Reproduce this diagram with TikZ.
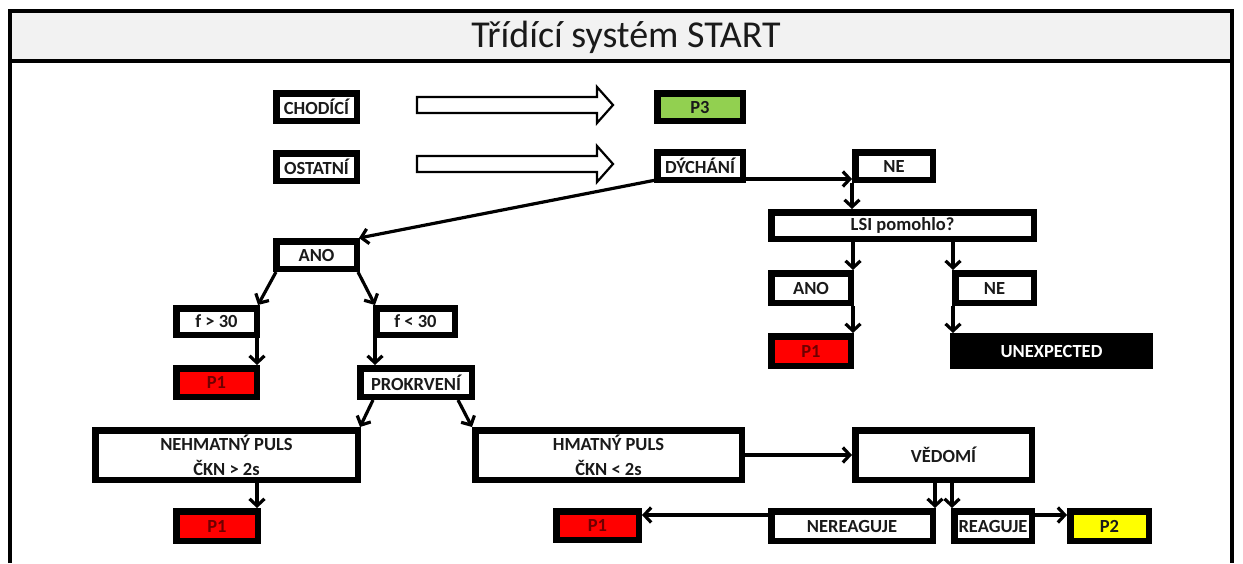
\documentclass[tikz,border=0pt]{standalone}
\usepackage{fontspec}
\setmainfont{Carlito}
\usetikzlibrary{arrows.meta,calc}
\definecolor{bandgray}{HTML}{F2F2F2}
\definecolor{pgreen}{HTML}{92D050}
\definecolor{pred}{HTML}{FF0000}
\definecolor{pyellow}{HTML}{FFFF00}
\definecolor{txtdark}{HTML}{1A1A1A}
\definecolor{txtred}{HTML}{6E0000}
\newcommand\mybox[7]{\node[#6, minimum width={#4-#2-6.5}, minimum height={#5-#3-6.5}] (#1) at ({(#2+#4)/2},{(#3+#5)/2}) {#7};}
\tikzset{
  box/.style={draw=black, line width=6.5pt, fill=white, inner sep=0pt, text=txtdark,
    font=\fontsize{18.5}{25}\selectfont\bfseries, align=center},
  redbox/.style={box, fill=pred, text=txtred},
  greenbox/.style={box, fill=pgreen},
  yellowbox/.style={box, fill=pyellow},
  blackbox/.style={box, fill=black, text=white},
  conn/.style={line width=3.2pt, -{Straight Barb[length=7pt,width=15pt]}},
  frame/.style={line width=4pt, draw=black},
  hollow/.style={line width=2.2pt, draw=black, fill=white, line join=miter},
}
\begin{document}
\begin{tikzpicture}[x=1pt,y=-1pt]
\useasboundingbox (0,0) rectangle (1243,563);
% frame and title band
\fill[bandgray] (10,11) rectangle (1232,61);
\draw[frame] (10,563) -- (10,11) -- (1232,11) -- (1232,563);
\draw[frame] (10,61) -- (1232,61);
\node[font=\fontsize{38}{42}\selectfont, text=txtdark] (title) at (626,37) {Třídící systém START};
% boxes
\mybox{chod}{273}{90}{360}{124}{box}{CHODÍCÍ}
\mybox{ost}{273}{150}{360}{184}{box}{OSTATNÍ}
\mybox{p3}{654}{90}{746}{124}{greenbox}{P3}
\mybox{dych}{654}{149}{746}{183}{box}{DÝCHÁNÍ}
\mybox{ne1}{852}{149}{936}{183}{box}{NE}
\mybox{lsi}{768}{209}{1037}{242}{box}{LSI pomohlo?}
\mybox{ano1}{273}{238}{360}{272}{box}{ANO}
\mybox{ano2}{768}{270}{854}{306}{box}{ANO}
\mybox{ne2}{952}{270}{1037}{306}{box}{NE}
\mybox{p1d}{768}{333}{854}{369}{redbox}{P1}
\mybox{unexp}{950}{333}{1153}{369}{blackbox}{UNEXPECTED}
\mybox{fgt}{173}{305}{260}{338}{box}{f > 30}
\mybox{flt}{373}{305}{458}{338}{box}{f < 30}
\mybox{p1a}{173}{365}{260}{400}{redbox}{P1}
\mybox{prok}{357}{365}{475}{400}{box}{PROKRVENÍ}
\mybox{neh}{92}{427}{361}{483}{box}{NEHMATNÝ PULS\\ČKN > 2s}
\mybox{hm}{472}{427}{745}{483}{box}{HMATNÝ PULS\\ČKN < 2s}
\mybox{ved}{852}{427}{1035}{483}{box}{VĚDOMÍ}
\mybox{p1b}{173}{508}{261}{544}{redbox}{P1}
\mybox{p1c}{553}{508}{642}{543}{redbox}{P1}
\mybox{nere}{768}{508}{936}{544}{box}{NEREAGUJE}
\mybox{reag}{951}{508}{1035}{544}{box}{REAGUJE}
\mybox{p2}{1067}{508}{1152}{544}{yellowbox}{P2}
% hollow block arrows
\draw[hollow] (417,97) -- (597,97) -- (597,87) -- (613,105) -- (597,123) -- (597,113) -- (417,113) -- cycle;
\draw[hollow] (417,156) -- (597,156) -- (597,146) -- (613,164) -- (597,182) -- (597,172) -- (417,172) -- cycle;
% connectors
\draw[conn] ([yshift=4pt]dych.south east) -- ([yshift=4pt]ne1.south west);
\draw[conn] (ne1.south west) -- (ne1.south west |- lsi.north);
\draw[conn] ([xshift=2pt,yshift=3pt]dych.south west) -- ([xshift=-1pt]ano1.north east);
\draw[conn] ([xshift=3pt]ano1.south west) -- ([xshift=-2pt]fgt.north east);
\draw[conn] ([xshift=-2pt]ano1.south east) -- ([xshift=2pt]flt.north west);
\draw[conn] ([xshift=-3pt]fgt.south east) -- ([xshift=-3pt]fgt.south east |- p1a.north);
\draw[conn] ([xshift=2pt]flt.south west) -- ([xshift=2pt]flt.south west |- prok.north);
\draw[conn] ([xshift=16pt]prok.south west) -- ([xshift=-1pt]neh.north east);
\draw[conn] ([xshift=-17pt]prok.south east) -- (hm.north west);
\draw[conn] ([xshift=-4pt]p1b.north east |- neh.south) -- ([xshift=-4pt]p1b.north east);
\draw[conn] (hm.east) -- (hm.east -| ved.west);
\draw[conn] ([xshift=-1pt]nere.north east |- ved.south) -- ([xshift=-1pt]nere.north east);
\draw[conn] ([xshift=1pt]reag.north west |- ved.south) -- ([xshift=1pt]reag.north west);
\draw[conn] ([yshift=-7pt]nere.north west) -- ([yshift=-7pt]nere.north west -| p1c.east);
\draw[conn] ([yshift=-7pt]reag.north east) -- ([yshift=-7pt]reag.north east -| p2.west);
\draw[conn] ([xshift=-1pt]ano2.north east |- lsi.south) -- ([xshift=-1pt]ano2.north east);
\draw[conn] ([xshift=1pt]ne2.north west |- lsi.south) -- ([xshift=1pt]ne2.north west);
\draw[conn] ([xshift=-1pt]ano2.south east) -- ([xshift=-1pt]ano2.south east |- p1d.north);
\draw[conn] ([xshift=1pt]ne2.south west) -- ([xshift=1pt]ne2.south west |- unexp.north);
\end{tikzpicture}
\end{document}
